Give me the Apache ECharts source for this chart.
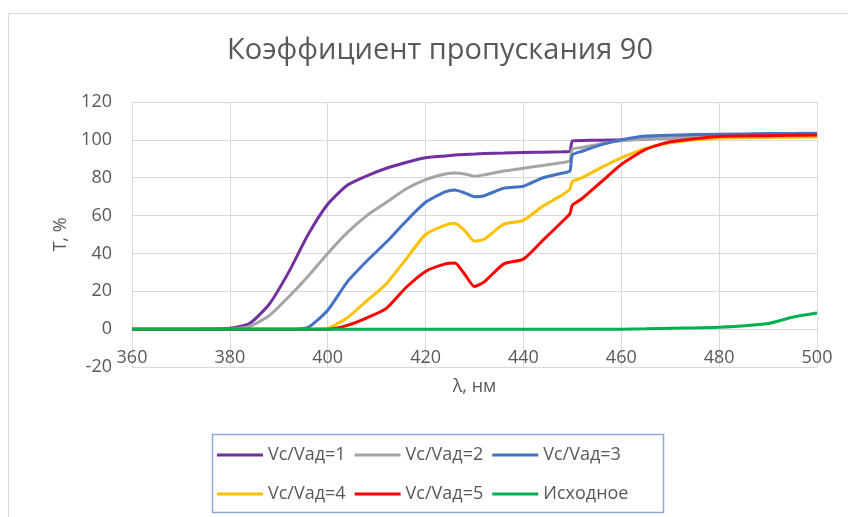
<!DOCTYPE html>
<html>
<head>
<meta charset="utf-8">
<script src="https://cdn.jsdelivr.net/npm/echarts@6/dist/echarts.min.js"></script>
<style>
html,body{margin:0;padding:0;background:#fff;}
#c{width:848px;height:517px;}
</style>
</head>
<body>
<div id="c"></div>
<script>
// Wavelength, nm
const wavelengths = [360,370,380,384,388,392,396,400,404,408,412,416,420,424,426,428,430,432,436,440,444,448,449.5,450,452,456,460,465,470,480,490,495,500];
const vc1 = [0,0,0.5,3,13,30,50,66,76,81,85,88,90.5,91.5,92,92.3,92.5,92.8,93,93.3,93.5,93.7,94,99.5,99.7,99.8,100,100.5,101,102,102.5,102.8,103];
const vc2 = [0,0,0,1.5,7,17,28,40,51,60,67,74,79,82,82.5,82,80.8,81.5,83.5,85,86.5,88,89,95,96,98,99.5,100.5,101,101.5,101.7,101.8,102];
const vc3 = [0,0,0,0,0,0,1,10,25,36,46,57,67,72.5,73.5,72,70,70.5,74.5,75.5,80,82.5,83.5,92,94,97.5,100,102,102.5,103,103.3,103.4,103.5];
const vc4 = [0,0,0,0,0,0,0,0.5,6,15,24,37,50,55,56,52,46.5,47.5,55.5,57.5,65,71,74,78,80,85.5,90.5,95.5,98.5,101,101.3,101.4,101.5];
const vc5 = [0,0,0,0,0,0,0,0,2,6,11,22,30.5,34.5,35,29,22.5,25,34.5,37,47,57,61,65.5,69,78,87,95,99,101.8,102.2,102.4,102.5];
const base = [0,0,0,0,0,0,0,0,0,0,0,0,0,0,0,0,0,0,0,0,0,0,0,0,0,0,0,0.2,0.5,1,3,6.3,8.5];

const seriesNames = ['Vc/Vад=1','Vc/Vад=2','Vc/Vад=3','Vc/Vад=4','Vc/Vад=5','Исходное'];
const seriesValues = [vc1, vc2, vc3, vc4, vc5, base];
const seriesColors = ['#7030a0','#a5a5a5','#4472c4','#ffc000','#ff0000','#00b050'];

const FONT = 'Open Sans';
const TXT = '#595959';

const chart = echarts.init(document.getElementById('c'), null, {renderer:'canvas'});

const series = seriesNames.map((name, i) => ({
  name: name,
  type: 'line',
  data: wavelengths.map((x, j) => [x, seriesValues[i][j]]),
  showSymbol: false,
  symbol: 'none',
  smooth: 0.2,
  lineStyle: {width: 3, color: seriesColors[i]},
  itemStyle: {color: seriesColors[i]},
  z: 2 + i
}));

const legendCommon = {
  orient: 'horizontal',
  icon: 'rect',
  itemWidth: 46,
  itemHeight: 3,
  itemGap: 9,
  textStyle: {fontFamily: FONT, fontSize: 18, color: TXT, width: 90},
  selectedMode: false
};

chart.setOption({
  animation: false,
  backgroundColor: '#ffffff',
  title: {
    text: 'Коэффициент пропускания 90',
    left: 435,
    textAlign: 'center',
    top: 31,
    textStyle: {fontFamily: FONT, fontSize: 29, fontWeight: 'normal', color: TXT}
  },
  legend: [
    Object.assign({}, legendCommon, {data: seriesNames.slice(0,3), left: 212, top: 441}),
    Object.assign({}, legendCommon, {data: seriesNames.slice(3,6), left: 212, top: 480})
  ],
  grid: {left: 132, right: 31, top: 102, bottom: 150, containLabel: false},
  xAxis: {
    type: 'value',
    min: 360, max: 500, interval: 20,
    name: 'λ, нм',
    nameLocation: 'middle',
    nameGap: 11,
    nameTextStyle: {fontFamily: FONT, fontSize: 18, color: TXT},
    axisLine: {show: false, onZero: false},
    axisTick: {show: false},
    axisLabel: {fontFamily: FONT, fontSize: 18, color: TXT, margin: -18},
    splitLine: {show: true, lineStyle: {color: '#d9d9d9', width: 1}}
  },
  yAxis: {
    type: 'value',
    min: -20, max: 120, interval: 20,
    name: 'T, %',
    nameLocation: 'middle',
    nameGap: 60,
    nameRotate: 90,
    nameTextStyle: {fontFamily: FONT, fontSize: 18, color: TXT},
    axisLine: {show: false},
    axisTick: {show: false},
    axisLabel: {fontFamily: FONT, fontSize: 18, color: TXT, margin: 20},
    splitLine: {show: true, lineStyle: {color: '#d9d9d9', width: 1}}
  },
  graphic: [
    {type: 'rect', left: 6, top: 11, shape: {width: 900, height: 600},
     style: {fill: 'none', stroke: '#d9d9d9', lineWidth: 1}, silent: true, z: -10},
    {type: 'rect', left: 210, top: 432, shape: {width: 451, height: 78},
     style: {fill: 'none', stroke: '#8eaadb', lineWidth: 1.5}, silent: true, z: 10}
  ],
  series: series
});
</script>
</body>
</html>
